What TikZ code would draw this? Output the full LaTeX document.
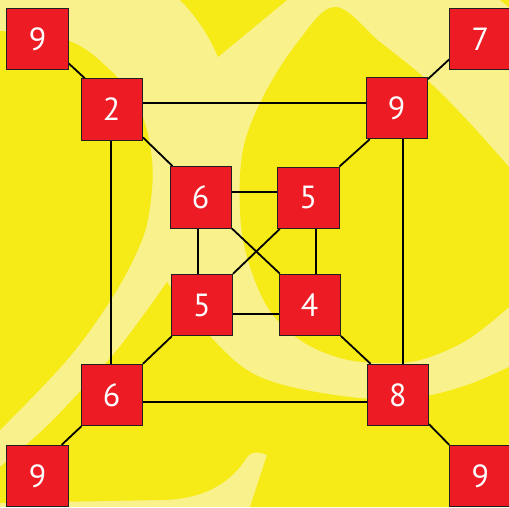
\documentclass[tikz,border=0pt]{standalone}
\usepackage{fontspec}
\setmainfont{PT Sans}
\definecolor{pale}{HTML}{F9F18C}
\definecolor{darky}{HTML}{F6EB16}
\definecolor{boxred}{HTML}{ED1C24}
\definecolor{boxline}{HTML}{231F20}
\pgfdeclarelayer{bglayer}
\pgfdeclarelayer{edgelayer}
\pgfsetlayers{bglayer,edgelayer,main}
\begin{document}
\begin{tikzpicture}[x=1pt,y=-1pt,
  numbox/.style={draw=boxline, line width=0.9pt, fill=boxred, minimum size=61.5pt,
    inner sep=0pt, text=white, font=\fontsize{32}{32}\selectfont},
  link/.style={line width=1.8pt, draw=black}]
\useasboundingbox (0,0) rectangle (509,507);
% nodes
\node[numbox] (a) at (37.5,38.8) {9};
\node[numbox] (b) at (480.4,38.8) {7};
\node[numbox] (c) at (111.7,109.5) {2};
\node[numbox] (d) at (396.7,108) {9};
\node[numbox] (e) at (200.7,197.3) {6};
\node[numbox] (f) at (308.3,197.7) {5};
\node[numbox] (g) at (201.8,305) {5};
\node[numbox] (h) at (309.7,304.8) {4};
\node[numbox] (i) at (111.7,395) {6};
\node[numbox] (j) at (397.8,395) {8};
\node[numbox] (k) at (37.5,476) {9};
\node[numbox] (l) at (480.4,476) {9};
% background
\begin{pgfonlayer}{bglayer}
\fill[pale] (0,0) rectangle (509,507);
\fill[darky] plot[smooth,tension=0.6] coordinates {(0,31) (67,40) (110,70) (140,110) (152,160) (150,207) (140,245) (112,298) (67,360) (0,430)} -- cycle;
\fill[darky] (180,0) .. controls (198,18) and (210,38) .. (218,57) -- (287,0) -- cycle;
\fill[darky] plot[smooth,tension=0.6] coordinates {(509,167) (467,120) (427,80) (380,42) (335,7) (297,43) (263,97) (243,150) (240,210) (247,257) (268,308) (300,340) (340,358) (380,363) (420,360) (467,340) (509,307)} -- cycle;
\fill[darky] plot[smooth,tension=0.5] coordinates {(0,467) (50,423) (117,350) (167,282)}
  -- plot[smooth,tension=0.6] coordinates {(167,282) (207,333) (260,377) (350,397) (417,397) (467,385) (509,367)}
  -- (509,507) -- (250,507) -- (267,455) .. controls (258,451) and (250,452) .. (247,457)
  .. controls (230,485) and (200,500) .. (160,500) -- (0,503) -- cycle;
\fill[darky] (500,0) -- (509,0) -- (509,7) -- cycle;
\end{pgfonlayer}
% connectors
\begin{pgfonlayer}{edgelayer}
\draw[link] ([yshift=6.6pt]a.south east) -- ([xshift=4.3pt]c.north west);
\draw[link] ([yshift=10.6pt]b.south west) -- ([yshift=-2.3pt]d.north east);
\draw[link] ([xshift=-7pt]k.north east) -- ([xshift=1pt]i.south west);
\draw[link] (l.north west) -- ([yshift=2pt]j.south east);
\draw[link] ([yshift=3.3pt]c.south east) -- ([xshift=3pt]e.north west);
\draw[link] ([xshift=4.3pt]d.south west) -- (f.north east);
\draw[link] (i.north east) -- ([xshift=1.3pt]g.south west);
\draw[link] ([xshift=4pt]j.north west) -- (h.south east);
\draw[link] (e.south east) -- ([xshift=1.3pt]h.north west);
\draw[link] ([xshift=2.7pt]f.south west) -- (g.north east);
\draw[link] ([yshift=6.2pt]c.east) -- ([yshift=6.2pt]c.east -| d.west);
\draw[link] ([xshift=-1pt]c.south) -- ([xshift=-1pt]c.south |- i.north);
\draw[link] ([xshift=6pt]d.south) -- ([xshift=6pt]d.south |- j.north);
\draw[link] ([yshift=-7.3pt]i.east) -- ([yshift=-7.3pt]i.east -| j.west);
\draw[link] ([yshift=5.3pt]e.east) -- ([yshift=5.3pt]e.east -| f.west);
\draw[link] ([xshift=-3pt]e.south) -- ([xshift=-3pt]e.south |- g.north);
\draw[link] ([yshift=-8.7pt]g.east) -- ([yshift=-8.7pt]g.east -| h.west);
\draw[link] ([xshift=7.4pt]f.south) -- ([xshift=7.4pt]f.south |- h.north);
\end{pgfonlayer}
\end{tikzpicture}
\end{document}
